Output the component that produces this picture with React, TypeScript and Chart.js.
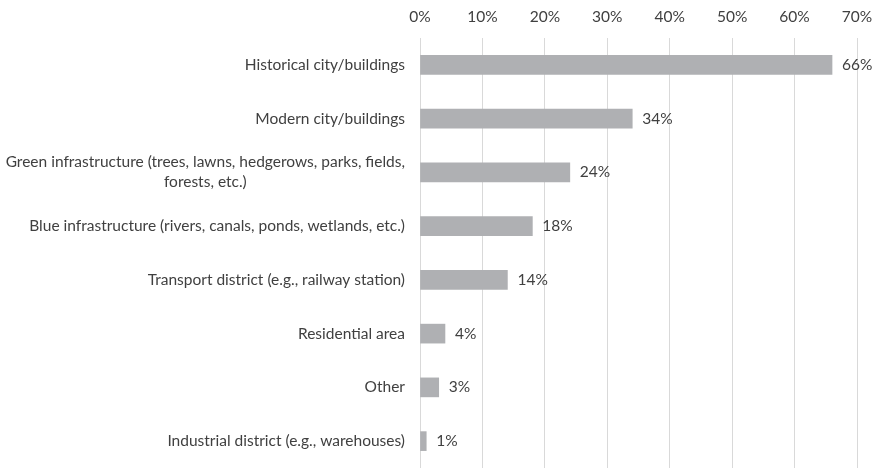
import React, { useEffect, useRef } from "react";
import { Chart, registerables } from "chart.js";

Chart.register(...registerables);

const categories: string[][] = [
  ["Historical city/buildings"],
  ["Modern city/buildings"],
  ["Green infrastructure (trees, lawns, hedgerows, parks, fields,", "forests, etc.)"],
  ["Blue infrastructure (rivers, canals, ponds, wetlands, etc.)"],
  ["Transport district (e.g., railway station)"],
  ["Residential area"],
  ["Other"],
  ["Industrial district (e.g., warehouses)"],
];
const values: number[] = [66, 34, 24, 18, 14, 4, 3, 1];
const xTicksMax = 70;
const xStep = 10;

const FONT = "Lato, 'Noto Sans', sans-serif";
const FS = 15.5;
const TEXT = "#404040";

export default function App() {
  const ref = useRef<HTMLCanvasElement | null>(null);
  useEffect(() => {
    document.body.style.margin = "0";
    const labelPlugin = {
      id: "customLabels",
      afterDatasetsDraw(chart: any) {
        const ctx = chart.ctx;
        const y = chart.scales.y;
        const meta = chart.getDatasetMeta(0);
        ctx.save();
        ctx.font = `${FS}px ${FONT}`;
        ctx.fillStyle = TEXT;
        ctx.textBaseline = "middle";
        const rightX = chart.chartArea.left - 15;
        categories.forEach((lines, i) => {
          const cy = y.getPixelForValue(i);
          const lh = 20;
          const widths = lines.map((l) => ctx.measureText(l).width);
          const maxW = Math.max(...widths);
          const centerX = rightX - maxW / 2;
          lines.forEach((l, j) => {
            const ly = cy + (j - (lines.length - 1) / 2) * lh;
            ctx.textAlign = "center";
            ctx.fillText(l, centerX, ly);
          });
        });
        meta.data.forEach((bar: any, i: number) => {
          ctx.textAlign = "left";
          ctx.fillText(values[i] + "%", bar.x + 10, bar.y);
        });
        ctx.restore();
      },
    };
    const chart = new Chart(ref.current as HTMLCanvasElement, {
      type: "bar",
      data: {
        labels: categories.map((c) => c.join(" ")),
        datasets: [
          {
            data: values,
            backgroundColor: "#afb0b3",
            barThickness: 19,
          },
        ],
      },
      options: {
        indexAxis: "y",
        animation: false,
        responsive: false,
        layout: { padding: { top: 0, right: 20, bottom: -2, left: 0 } },
        plugins: { legend: { display: false }, tooltip: { enabled: false } },
        scales: {
          x: {
            position: "top",
            min: 0,
            max: xTicksMax,
            afterFit(scale: any) {
              scale.height = 38;
              scale.paddingLeft = 0;
              scale.paddingRight = 0;
            },
            ticks: {
              stepSize: xStep,
              padding: 12,
              color: TEXT,
              font: { family: FONT, size: FS },
              callback: (v: any) => v + "%",
            },
            grid: { color: "#d9d9d9", drawTicks: false },
            border: { display: false },
          },
          y: {
            afterFit(scale: any) {
              scale.width = 420;
            },
            ticks: { display: false },
            grid: { display: false },
            border: { display: false },
          },
        },
      },
      plugins: [labelPlugin],
    });
    return () => chart.destroy();
  }, []);
  return <canvas ref={ref} width={877} height={468} style={{ display: "block" }} />;
}
